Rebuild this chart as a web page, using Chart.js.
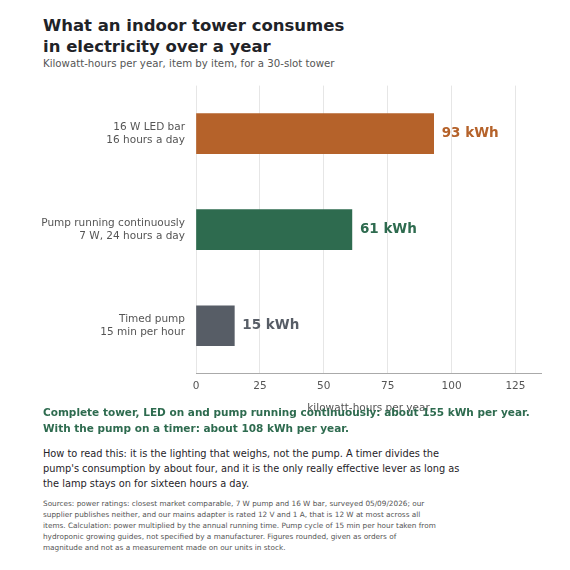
<!DOCTYPE html>
<html><head><meta charset="utf-8">
<script src="https://cdn.jsdelivr.net/npm/chart.js@4"></script>
<style>
body{margin:0;font-family:"DejaVu Sans",sans-serif;background:#fff;width:570px;height:570px;position:relative;overflow:hidden}
.t{position:absolute;left:43px;color:#1f2328}
#title{top:15px;font-size:16.5px;font-weight:bold;line-height:21px}
#sub{top:58px;font-size:10.2px;color:#555}
#wrap{position:absolute;left:0;top:70px;width:543px;height:349px}
#sum{top:404px;font-size:10.5px;font-weight:bold;color:#2e6b4f;line-height:16px}
#read{top:446px;font-size:9.8px;line-height:15px;width:425px}
#src{top:498px;font-size:7.3px;line-height:11px;color:#555;width:395px}
</style></head><body>
<div class="t" id="title">What an indoor tower consumes<br>in electricity over a year</div>
<div class="t" id="sub">Kilowatt-hours per year, item by item, for a 30-slot tower</div>
<div id="wrap"><canvas id="c"></canvas></div>
<div class="t" id="sum">Complete tower, LED on and pump running continuously: about 155 kWh per year.<br>With the pump on a timer: about 108 kWh per year.</div>
<div class="t" id="read">How to read this: it is the lighting that weighs, not the pump. A timer divides the pump's consumption by about four, and it is the only really effective lever as long as the lamp stays on for sixteen hours a day.</div>
<div class="t" id="src">Sources: power ratings: closest market comparable, 7 W pump and 16 W bar, surveyed 05/09/2026; our supplier publishes neither, and our mains adapter is rated 12 V and 1 A, that is 12 W at most across all items. Calculation: power multiplied by the annual running time. Pump cycle of 15 min per hour taken from hydroponic growing guides, not specified by a manufacturer. Figures rounded, given as orders of magnitude and not as a measurement made on our units in stock.</div>
<script>
const categories = [["16 W LED bar", "16 hours a day"], ["Pump running continuously", "7 W, 24 hours a day"], ["Timed pump", "15 min per hour"]];
const values = [93, 61, 15];
const colors = ["#b5622a", "#2e6b4f", "#575d66"];
const xTicks = [0, 25, 50, 75, 100, 125];

const valueLabels = {
    id: "valueLabels",
    afterDatasetsDraw(chart) {
        const ctx = chart.ctx;
        chart.getDatasetMeta(0).data.forEach((bar, i) => {
            ctx.save();
            ctx.font = "bold 13.5px 'DejaVu Sans'";
            ctx.fillStyle = colors[i];
            ctx.textBaseline = "middle";
            ctx.fillText(values[i] + " kWh", bar.x + 8, bar.y);
            ctx.restore();
        });
    }
};

new Chart(document.getElementById("c"), {
    type: "bar",
    data: { labels: categories, datasets: [{ data: values, backgroundColor: colors, barThickness: 40 }] },
    options: {
        indexAxis: "y",
        responsive: true,
        maintainAspectRatio: false,
        animation: false,
        layout: { padding: { top: 15, right: 2 } },
        plugins: { legend: { display: false }, tooltip: { enabled: false } },
        scales: {
            x: {
                min: 0, max: 135,
                afterBuildTicks: s => { s.ticks = xTicks.map(v => ({ value: v })); },
                grid: { color: "#e6e6e6", drawTicks: false },
                border: { display: true, color: "#aaa" },
                ticks: { color: "#555", font: { size: 10.5, family: "DejaVu Sans" }, padding: 6 },
                title: { display: true, text: "kilowatt-hours per year", color: "#555", font: { size: 10.5, family: "DejaVu Sans" }, padding: { top: 4 } }
            },
            y: {
                afterFit: s => { s.width = 196; },
                grid: { display: false },
                border: { display: false },
                ticks: { color: "#555", font: { size: 10.5, family: "DejaVu Sans" }, padding: 3 }
            }
        }
    },
    plugins: [valueLabels]
});
</script>
</body></html>
